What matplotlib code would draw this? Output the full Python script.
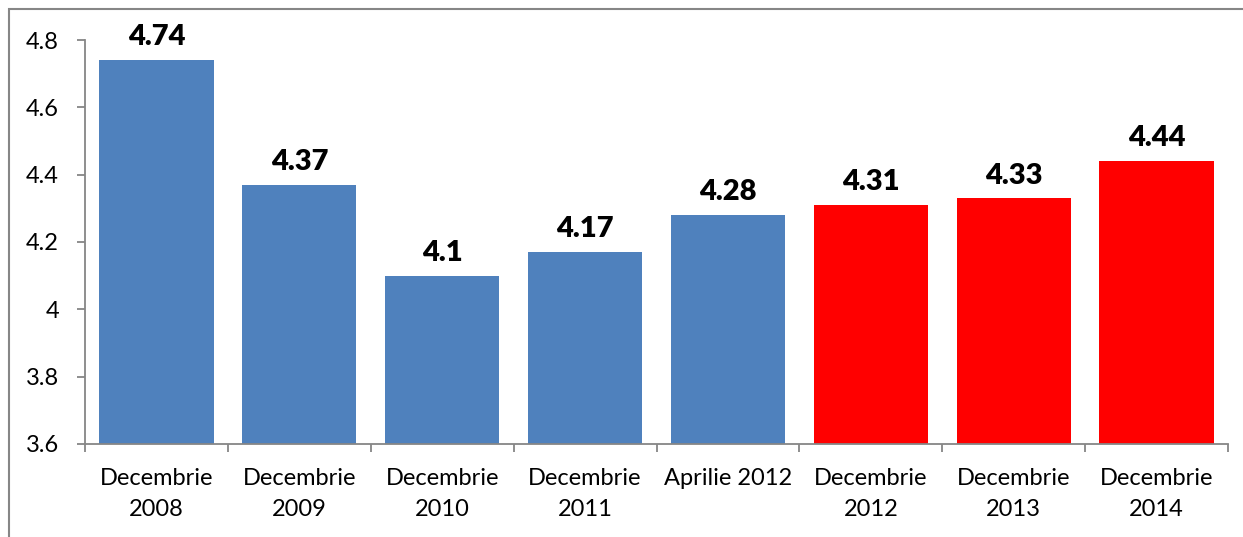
import numpy as np
import matplotlib.pyplot as plt
from matplotlib.patches import Rectangle

categories = ["Decembrie\n2008", "Decembrie\n2009", "Decembrie\n2010", "Decembrie\n2011",
              "Aprilie 2012", "Decembrie\n2012", "Decembrie\n2013", "Decembrie\n2014"]
values = [4.74, 4.37, 4.1, 4.17, 4.28, 4.31, 4.33, 4.44]
value_labels = ["4.74", "4.37", "4.1", "4.17", "4.28", "4.31", "4.33", "4.44"]
is_forecast = [False, False, False, False, False, True, True, True]
yticks = [3.6, 3.8, 4.0, 4.2, 4.4, 4.6, 4.8]
ytick_labels = ["3.6", "3.8", "4", "4.2", "4.4", "4.6", "4.8"]

BLUE = "#4F81BD"
RED = "#FF0000"
GRID_GRAY = "#868686"

plt.rcParams["font.family"] = ["Lato", "DejaVu Sans"]

fig = plt.figure(figsize=(12.43, 5.37), dpi=100)
ax = fig.add_axes([0.0684, 0.1732, 0.9196, 0.7523])

# outer chart frame (cut off on the right and bottom like the source)
fig.patches.append(Rectangle((9 / 1243, -0.1), 1.2, 1 - 9 / 537 + 0.1,
                             transform=fig.transFigure, fill=False,
                             edgecolor=GRID_GRAY, linewidth=1.5))

x = np.arange(len(categories))
colors = [RED if f else BLUE for f in is_forecast]
ax.bar(x, np.array(values) - 3.6, bottom=3.6, width=0.8, color=colors)

for xi, v, lab in zip(x, values, value_labels):
    ax.annotate(lab, (xi, v), xytext=(0, 7), textcoords="offset points",
                ha="center", va="bottom", fontsize=21, fontweight="heavy")

ax.set_xlim(-0.5, len(categories) - 0.5)
ax.set_ylim(3.6, 4.8)
ax.set_yticks(yticks)
ax.set_yticklabels(ytick_labels)
ax.set_xticks(x)
ax.set_xticklabels(categories, linespacing=1.6)
ax.set_xticks(np.arange(-0.5, len(categories)), minor=True)

ax.tick_params(axis="x", which="major", length=0, pad=17, labelsize=17)
ax.tick_params(axis="x", which="minor", length=5.8, color=GRID_GRAY, width=1.3)
ax.tick_params(axis="y", length=5.8, color=GRID_GRAY, width=1.3, pad=13, labelsize=17)

for side in ("top", "right"):
    ax.spines[side].set_visible(False)
for side in ("left", "bottom"):
    ax.spines[side].set_color(GRID_GRAY)
    ax.spines[side].set_linewidth(1.3)

fig.savefig("out.png", dpi=100)
